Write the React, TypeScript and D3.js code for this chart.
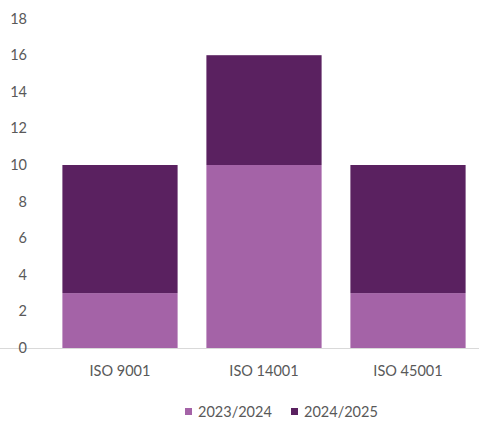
import React from "react";
import * as d3 from "d3";

const categories = ["ISO 9001", "ISO 14001", "ISO 45001"];
const series2324 = [3, 10, 3];
const series2425 = [7, 6, 7];
const seriesNames = ["2023/2024", "2024/2025"];
const colors = ["#A463A7", "#5A2160"];
const yTicks = [0, 2, 4, 6, 8, 10, 12, 14, 16, 18];

export default function App() {
  const W = 479, H = 422;
  const x = d3.scaleBand().domain(categories).range([48, 480]).paddingInner(0.2).paddingOuter(0.1);
  const y = d3.scaleLinear().domain([0, 18]).range([348, 18.6]);
  const rows = categories.map((c, i) => ({ cat: c, a: series2324[i], b: series2425[i] }));
  const stacked = d3.stack<any>().keys(["a", "b"])(rows);
  const font = "Lato, 'Open Sans', sans-serif";
  const fs = 14.5;
  return (
    <svg width={W} height={H} style={{ position: "absolute", left: 0, top: 0, background: "#fff" }}>
      {stacked.map((s, si) =>
        s.map((d, i) => (
          <rect key={si + "-" + i} x={x(categories[i])} width={x.bandwidth()} y={y(d[1])} height={y(d[0]) - y(d[1])} fill={colors[si]} />
        ))
      )}
      <line x1={0} x2={W} y1={348.5} y2={348.5} stroke="#D9D9D9" strokeWidth={1} />
      {yTicks.map((t) => (
        <text key={t} x={27} y={y(t)} dy="0.35em" textAnchor="end" fontSize={fs} fill="#595959" fontFamily={font}>{t}</text>
      ))}
      {categories.map((c) => (
        <text key={c} x={(x(c) as number) + x.bandwidth() / 2} y={376} textAnchor="middle" fontSize={fs} fill="#595959" fontFamily={font}>{c}</text>
      ))}
      {seriesNames.map((n, i) => (
        <g key={n} transform={`translate(${185 + i * 106},0)`}>
          <rect x={0} y={408} width={7} height={7} fill={colors[i]} />
          <text x={13} y={417} fontSize={fs} fill="#595959" fontFamily={font}>{n}</text>
        </g>
      ))}
    </svg>
  );
}
